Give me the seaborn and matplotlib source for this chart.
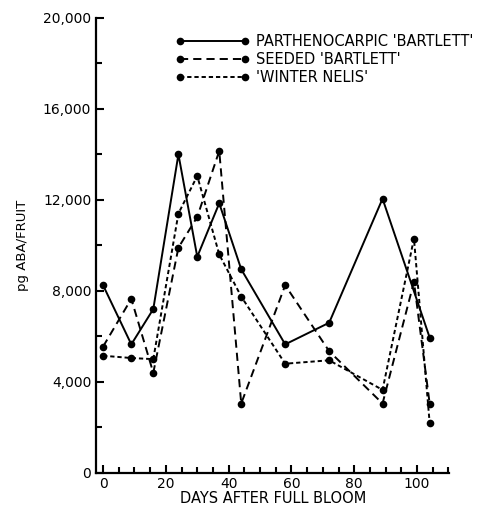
import numpy as np
import pandas as pd
import matplotlib
matplotlib.use("Agg")
import matplotlib.pyplot as plt
from matplotlib.ticker import MultipleLocator, FuncFormatter
import seaborn as sns

# ABA content of pear fruit
days = [0, 9, 16, 24, 30, 37, 44, 58, 72, 89, 99, 104]
days_parth = [0, 9, 16, 24, 30, 37, 44, 58, 72, 89, 104]
parthenocarpic = [8250, 5650, 7200, 14000, 9500, 11850, 8950, 5650, 6600, 12050, 5950]
seeded = [5550, 7650, 4400, 9900, 11250, 14150, 3050, 8250, 5350, 3050, 8400, 3050]
winter_nelis = [5150, 5050, 5000, 11400, 13050, 9600, 7750, 4800, 4950, 3650, 10300, 2200]
series_names = ["PARTHENOCARPIC 'BARTLETT'", "SEEDED 'BARTLETT'", "'WINTER NELIS'"]

df = pd.concat([
    pd.DataFrame({"day": days_parth, "aba": parthenocarpic, "series": series_names[0]}),
    pd.DataFrame({"day": days, "aba": seeded, "series": series_names[1]}),
    pd.DataFrame({"day": days, "aba": winter_nelis, "series": series_names[2]}),
], ignore_index=True)

sns.set_style("ticks")
plt.rcParams["font.family"] = ["DejaVu Sans"]
plt.rcParams["text.color"] = "black"
plt.rcParams["axes.labelcolor"] = "black"

fig = plt.figure(figsize=(4.93, 5.08), dpi=100)
ax = fig.add_axes([0.195, 0.069, 0.716, 0.896])

sns.lineplot(data=df, x="day", y="aba", style="series", style_order=series_names,
             dashes={series_names[0]: "", series_names[1]: (4.2, 2.6), series_names[2]: (2.2, 1.5)},
             markers={s: "o" for s in series_names}, color="black", linewidth=1.4,
             markersize=5.5, markeredgewidth=0, sort=False, ax=ax)

ax.set_xlim(-2.2, 110.2)
ax.set_ylim(0, 20000)
ax.xaxis.set_major_locator(MultipleLocator(20))
ax.xaxis.set_minor_locator(MultipleLocator(5))
ax.yaxis.set_major_locator(MultipleLocator(4000))
ax.yaxis.set_minor_locator(MultipleLocator(2000))
ax.yaxis.set_major_formatter(FuncFormatter(lambda v, p: f"{int(v):,}"))
ax.tick_params(which="both", direction="in", width=1.5, colors="black", labelsize=10)
ax.tick_params(which="major", length=6)
ax.tick_params(which="minor", length=4)
ax.tick_params(axis="x", pad=3)

for side in ["top", "right"]:
    ax.spines[side].set_visible(False)
for side in ["left", "bottom"]:
    ax.spines[side].set_linewidth(1.6)
    ax.spines[side].set_color("black")

ax.set_xlabel("DAYS AFTER FULL BLOOM", fontsize=10.5, labelpad=0)
ax.set_ylabel("pg ABA/FRUIT", fontsize=9.5, labelpad=10)

ax.legend(loc="upper left", bbox_to_anchor=(0.21, 0.978), frameon=False, numpoints=2,
          handlelength=5.0, handletextpad=0.5, labelspacing=0.22, fontsize=10.5,
          borderaxespad=0)

fig.savefig("out.png", dpi=100)
